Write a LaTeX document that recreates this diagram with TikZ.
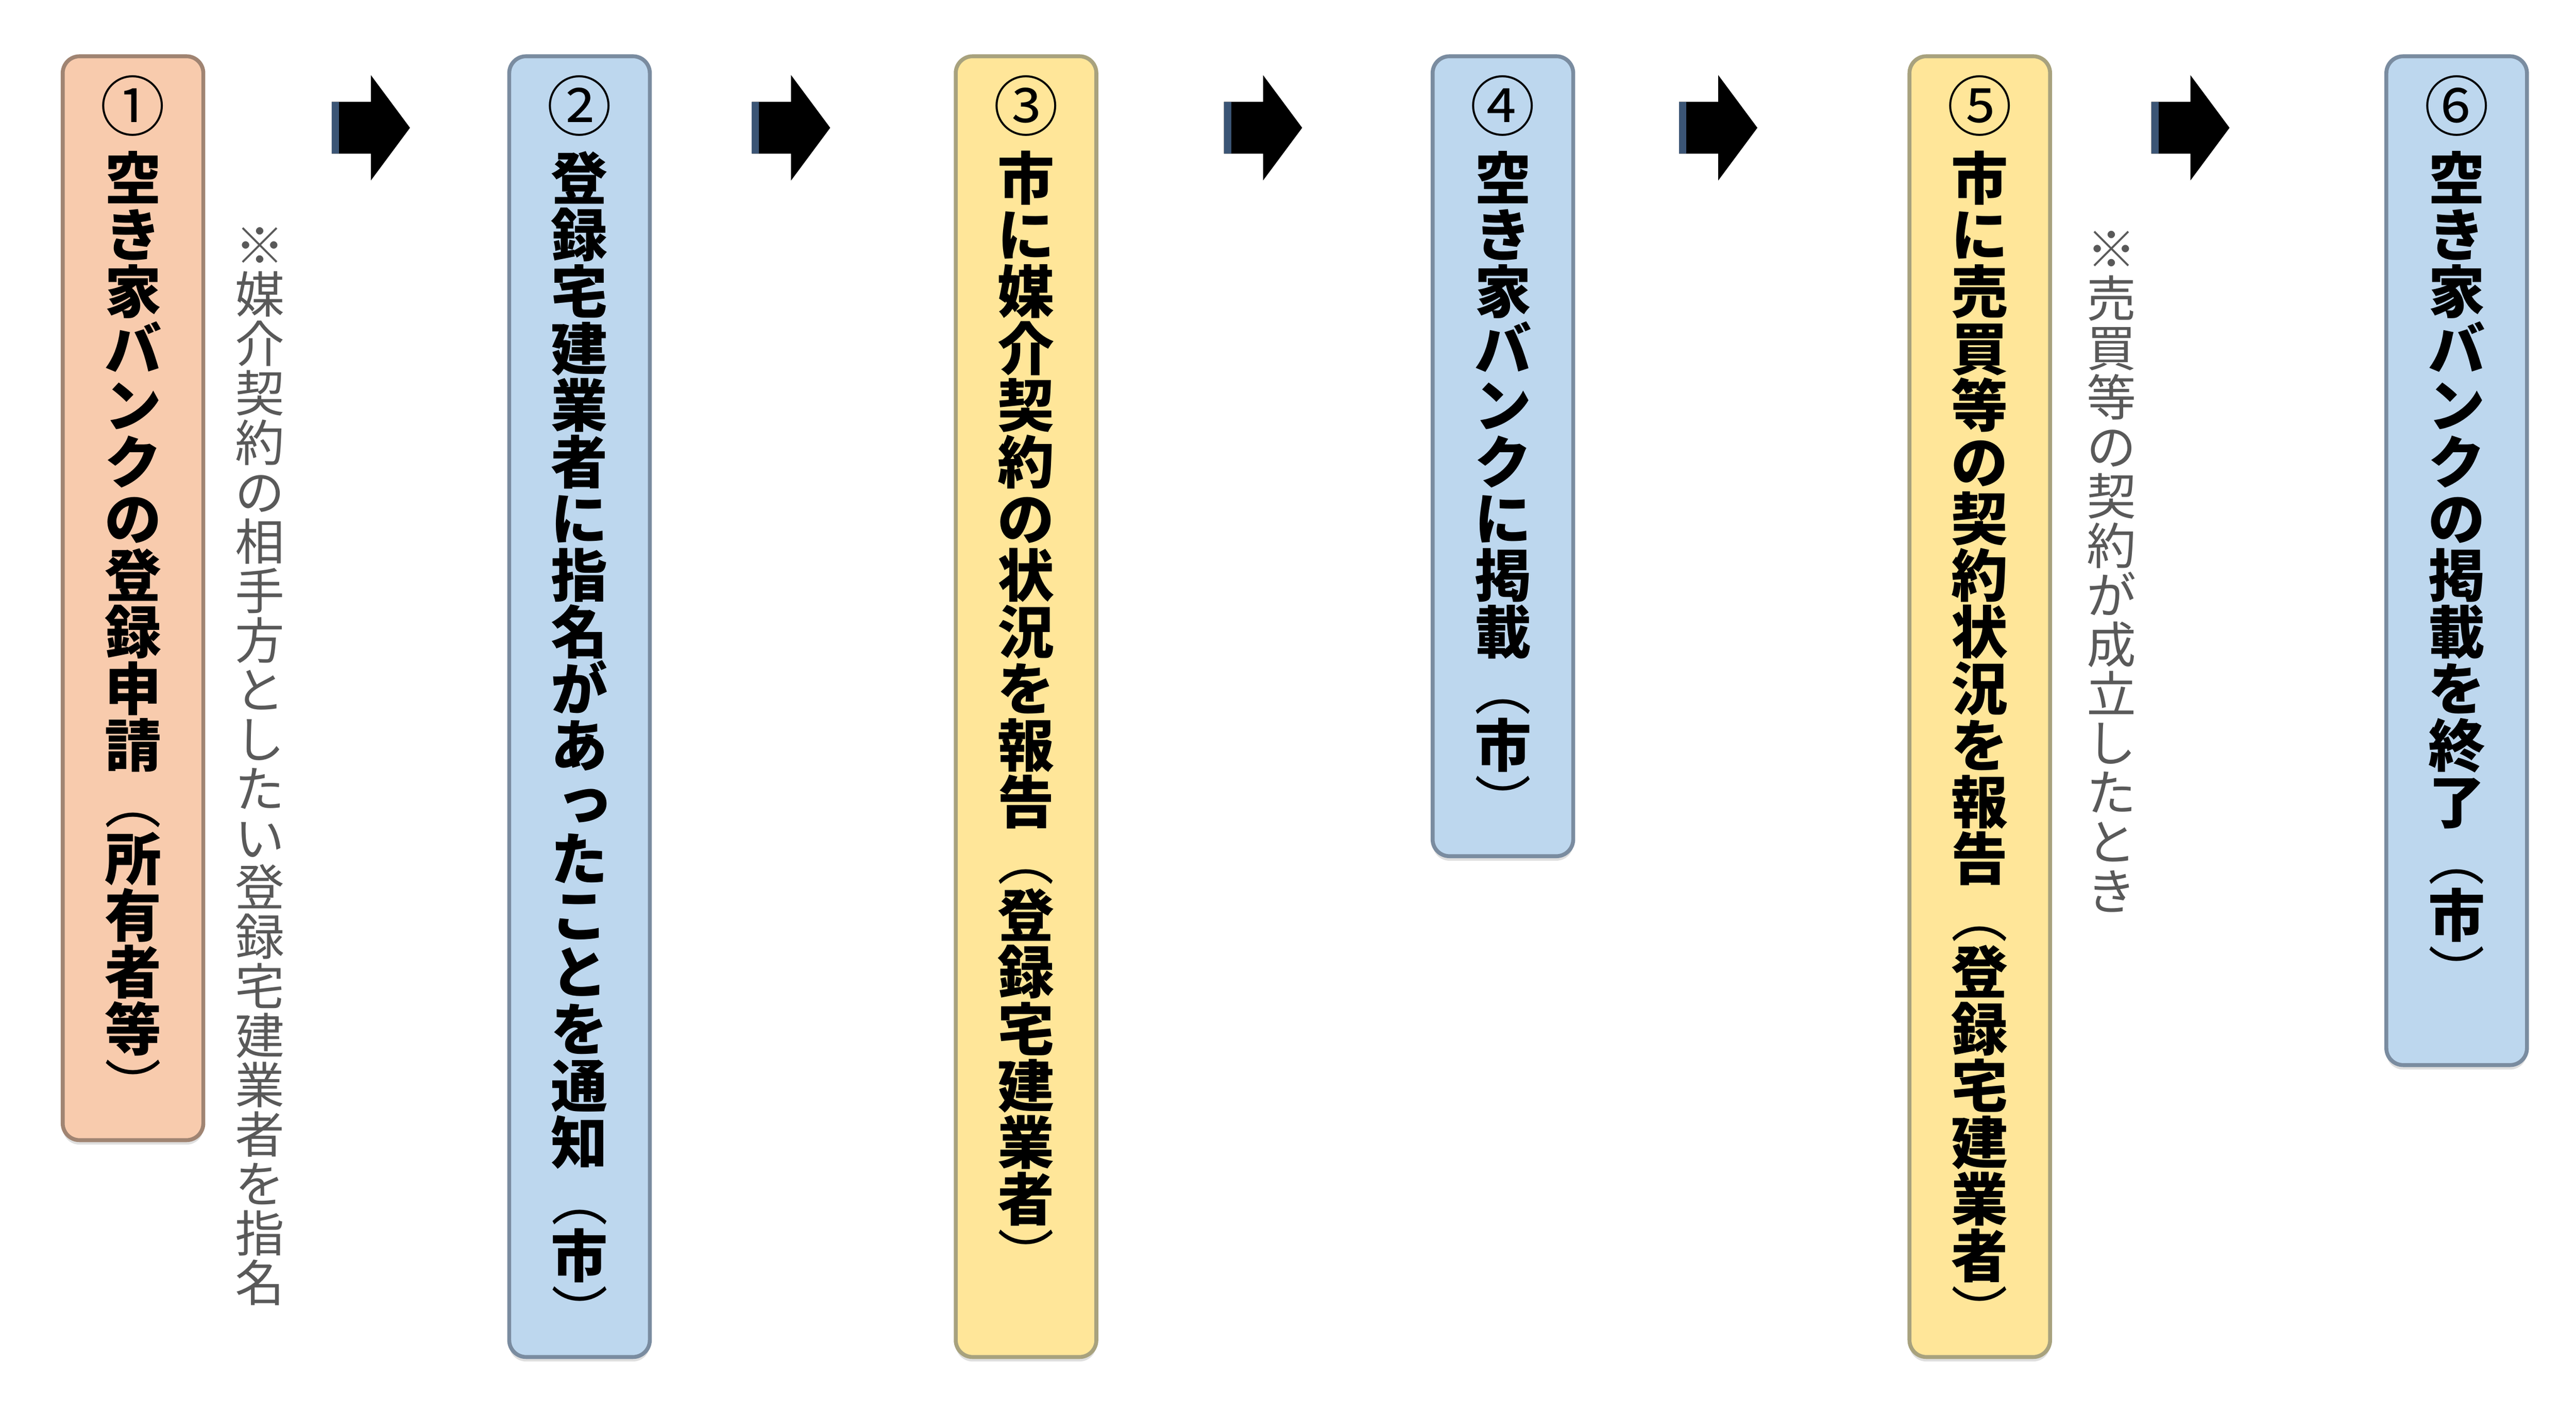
\documentclass[tikz,border=0pt]{standalone}
\usepackage{fontspec}
\usepackage{graphicx}
\usetikzlibrary{positioning,shadows}
\newfontfamily\jpfont{Noto Sans CJK JP}
\definecolor{bankpeach}{HTML}{F8CBAD}
\definecolor{peachline}{HTML}{A08472}
\definecolor{bankblue}{HTML}{BDD7EE}
\definecolor{blueline}{HTML}{7A8CA0}
\definecolor{bankgold}{HTML}{FFE699}
\definecolor{goldline}{HTML}{A8A27E}
\definecolor{notegray}{HTML}{595959}
\definecolor{arrowedge}{HTML}{3B5575}
% one character per line, for vertical text
\makeatletter
\def\tate@set{\baselineskip=1em \lineskip=0pt \lineskiplimit=-\maxdimen}
\def\tate@put{\hbox to 1em{\hss\tate@c\hss}}
\newcommand\tate[1]{\vbox{\tate@set\@tfor\tate@c:=#1\do{\tate@put}}}
\newcommand\tatestep[3]{\vbox to #1{\tate@set
  \hbox to 1em{\hss\fontsize{11.6pt}{11.6pt}\mdseries #2\hss}\vskip0.22em
  \@tfor\tate@c:=#3\do{\tate@put}\vss}}
\makeatother
\newcommand\po{\rotatebox[origin=c]{-90}{\mdseries （}}
\newcommand\pc{\rotatebox[origin=c]{-90}{\mdseries ）}}
\newcommand\smtsu{{\kern.2em\raisebox{.07em}{っ}}}

\begin{document}
\begin{tikzpicture}[
  stepbox/.style={draw, line width=0.7pt, rounded corners=3pt,
    minimum width=0.88cm, inner xsep=0pt, inner ysep=0.12cm, anchor=north,
    font=\jpfont\bfseries\fontsize{10.1pt}{10.1pt}\selectfont,
    drop shadow={shadow xshift=0pt, shadow yshift=-0.8pt, opacity=0.25}},
  note/.style={inner sep=0pt, text=notegray,
    font=\jpfont\fontsize{8.8pt}{8.8pt}\selectfont},
  blkarrow/.pic={
    \fill (-0.245,-0.1625) -- (0,-0.1625) -- (0,-0.33) -- (0.245,0)
      -- (0,0.33) -- (0,0.1625) -- (-0.245,0.1625) -- cycle;
    \fill[arrowedge] (-0.245,-0.1625) rectangle (-0.2,0.1625);}
]
\useasboundingbox (0,0) rectangle (16.1225,-8.8625);
\node[stepbox, fill=bankpeach, draw=peachline] (s1) at (0.8325,-0.34)
  {\tatestep{6.545cm}{①}{空き家バンクの登録申請\po 所有者等\pc}};
\node[stepbox, right=1.89cm of s1.north east, anchor=north west,
  fill=bankblue, draw=blueline] (s2)
  {\tatestep{7.9025cm}{②}{登録宅建業者に指名があ\smtsu たことを通知\po 市\pc}};
\node[stepbox, right=1.89cm of s2.north east, anchor=north west,
  fill=bankgold, draw=goldline] (s3)
  {\tatestep{7.9025cm}{③}{市に媒介契約の状況を報告\po 登録宅建業者\pc}};
\node[stepbox, right=2.08cm of s3.north east, anchor=north west,
  fill=bankblue, draw=blueline] (s4)
  {\tatestep{4.7675cm}{④}{空き家バンクに掲載\po 市\pc}};
\node[stepbox, right=2.08cm of s4.north east, anchor=north west,
  fill=bankgold, draw=goldline] (s5)
  {\tatestep{7.9025cm}{⑤}{市に売買等の契約状況を報告\po 登録宅建業者\pc}};
\node[stepbox, right=2.08cm of s5.north east, anchor=north west,
  fill=bankblue, draw=blueline] (s6)
  {\tatestep{6.075cm}{⑥}{空き家バンクの掲載を終了\po 市\pc}};
% notes beside the boxes
\node[note, below right=1.075cm and 0.18cm of s1.north east] (n1)
  {\tate{※媒介契約の相手方としたい登録宅建業者を指名}};
\node[note, below right=1.10cm and 0.21cm of s5.north east] (n2)
  {\tate{※売買等の契約が成立したとき}};
% block arrows
\pic at (2.321,-0.80) {blkarrow};
\pic at (4.951,-0.80) {blkarrow};
\pic at (7.905,-0.80) {blkarrow};
\pic at (10.754,-0.80) {blkarrow};
\pic at (13.709,-0.80) {blkarrow};
\end{tikzpicture}
\end{document}
